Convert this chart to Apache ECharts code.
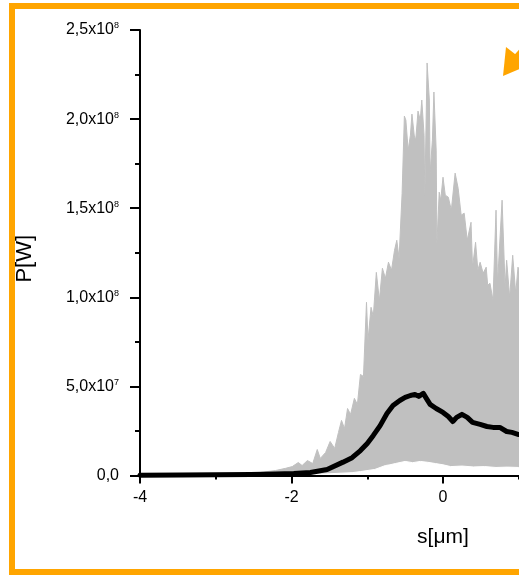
<!DOCTYPE html>
<html>
<head>
<meta charset="utf-8">
<script src="https://cdn.jsdelivr.net/npm/echarts@6.0.0/dist/echarts.min.js"></script>
<style>
  html, body { margin: 0; padding: 0; overflow: hidden; background: #fff; }
  #main { width: 780px; height: 575px; }
</style>
</head>
<body>
<div id="main"></div>
<script>
// s in µm, P in units of 1e7 W
const upperS = [-4.0, -3.2, -2.67, -2.41, -2.21, -2.08, -1.99, -1.91, -1.86, -1.79, -1.72, -1.66, -1.62, -1.55,
  -1.49, -1.43, -1.38, -1.34, -1.30, -1.26, -1.22, -1.17, -1.13, -1.09, -1.05, -1.01, -0.99, -0.95, -0.92,
  -0.88, -0.84, -0.80, -0.76, -0.72, -0.68, -0.64, -0.61, -0.58, -0.54, -0.51, -0.49, -0.46, -0.43, -0.41,
  -0.38, -0.36, -0.33, -0.30, -0.28, -0.25, -0.24, -0.21, -0.18, -0.17, -0.14, -0.12, -0.09, -0.08, -0.05,
  -0.03, 0.0, 0.03, 0.07, 0.11, 0.16, 0.20, 0.24, 0.28, 0.32, 0.37, 0.39, 0.43, 0.46, 0.49, 0.53, 0.57,
  0.59, 0.62, 0.66, 0.70, 0.72, 0.78, 0.82, 0.84, 0.88, 0.92, 0.96, 0.99, 1.04, 1.09];
const upperP = [0.06, 0.06, 0.1, 0.17, 0.28, 0.4, 0.5, 0.73, 0.56, 0.84, 0.67, 1.46, 0.96, 1.29,
  1.91, 1.52, 2.42, 3.09, 2.64, 3.76, 3.43, 4.33, 3.99, 5.67, 5.56, 9.72, 7.58, 9.44, 8.93,
  11.4, 9.83, 11.63, 11.07, 11.97, 11.52, 12.64, 13.2, 12.19, 15.84, 20.17, 19.94, 18.26, 19.1, 20.28,
  19.1, 18.82, 20.45, 19.94, 21.07, 19.1, 15.62, 23.15, 21.07, 16.97, 18.82, 21.52, 18.26, 13.03, 15.9,
  15.45, 16.74, 15.73, 15.62, 14.89, 16.97, 16.12, 14.61, 14.72, 13.2, 14.21, 11.69, 13.09, 11.52, 11.97, 11.35, 11.69,
  10.67, 10.79, 9.83, 14.89, 10.79, 15.45, 10.56, 12.08, 10.0, 12.36, 10.22, 11.69, 10.96, 12.6];

const lowerS = [-4.0, -2.0, -1.49, -1.2, -1.09, -0.9, -0.76, -0.7, -0.63, -0.5, -0.4, -0.3, -0.2, -0.1, 0.0,
  0.1, 0.25, 0.4, 0.55, 0.7, 0.85, 1.0, 1.1];
const lowerP = [0.0, 0.02, 0.1, 0.16, 0.22, 0.34, 0.56, 0.6, 0.67, 0.79, 0.72, 0.79, 0.74, 0.67, 0.6,
  0.5, 0.53, 0.48, 0.5, 0.45, 0.47, 0.45, 0.45];

const meanS = [-4.0, -3.46, -3.0, -2.54, -2.21, -1.97, -1.75, -1.53, -1.32, -1.2, -1.09, -1.0, -0.92, -0.83,
  -0.74, -0.66, -0.57, -0.5, -0.43, -0.37, -0.32, -0.26, -0.22, -0.17, -0.09, 0.0, 0.07, 0.13, 0.18, 0.25,
  0.32, 0.39, 0.49, 0.58, 0.66, 0.75, 0.84, 0.91, 1.0, 1.08];
const meanP = [0.02, 0.03, 0.04, 0.06, 0.08, 0.11, 0.17, 0.34, 0.75, 1.0, 1.4, 1.8, 2.25, 2.8,
  3.48, 3.93, 4.21, 4.38, 4.49, 4.55, 4.44, 4.61, 4.33, 3.99, 3.76, 3.54, 3.31, 3.03, 3.26, 3.43,
  3.26, 2.98, 2.87, 2.75, 2.7, 2.7, 2.47, 2.42, 2.3, 2.25];

const yTickMantissa = ['0,0', '5,0x10', '1,0x10', '1,5x10', '2,0x10', '2,5x10'];
const yTickExp = ['', '7', '8', '8', '8', '8'];

const zip = (xs, ys) => xs.map((x, i) => [x, ys[i]]);

const chart = echarts.init(document.getElementById('main'));
const font = 'Liberation Sans, Arial, sans-serif';

const option = {
  animation: false,
  grid: { left: 140, top: 30, width: 606, height: 445.5 },
  xAxis: {
    type: 'value', min: -4, max: 4, interval: 2, z: 3,
    name: 's[μm]', nameLocation: 'middle', nameGap: 51,
    nameTextStyle: { fontFamily: font, fontSize: 21, color: '#000' },
    axisLine: { onZero: false, lineStyle: { color: '#000', width: 2 } },
    axisTick: { length: 8, lineStyle: { color: '#000', width: 2 } },
    minorTick: { show: true, splitNumber: 2, length: 4, lineStyle: { color: '#000', width: 2 } },
    axisLabel: { margin: 14, fontFamily: font, fontSize: 16, color: '#000' },
    splitLine: { show: false }
  },
  yAxis: {
    type: 'value', min: 0, max: 25, interval: 5, z: 3,
    name: 'P[W]', nameLocation: 'middle', nameRotate: 90, nameGap: 104,
    nameTextStyle: { fontFamily: font, fontSize: 22, color: '#000', padding: [0, 12, 0, 0] },
    axisLine: { show: true, onZero: false, lineStyle: { color: '#000', width: 2 } },
    axisTick: { show: true, length: 10, lineStyle: { color: '#000', width: 2 } },
    minorTick: { show: true, splitNumber: 2, length: 5, lineStyle: { color: '#000', width: 2 } },
    axisLabel: {
      margin: 21,
      formatter: (v) => {
        const i = Math.round(v / 5);
        return yTickExp[i] ? `{m|${yTickMantissa[i]}}{e|${yTickExp[i]}}` : `{m|${yTickMantissa[i]}}`;
      },
      rich: {
        m: { fontFamily: font, fontSize: 16, color: '#000' },
        e: { fontFamily: font, fontSize: 9, color: '#000', padding: [0, 0, 8, 0] }
      }
    },
    splitLine: { show: false }
  },
  series: [
    {
      type: 'line', data: zip(upperS, upperP), symbol: 'none', z: 1,
      lineStyle: { color: '#c0c0c0', width: 1 },
      areaStyle: { color: '#c0c0c0', opacity: 1 }
    },
    {
      type: 'line', data: zip(lowerS, lowerP), symbol: 'none', z: 2,
      lineStyle: { color: '#fff', width: 1 },
      areaStyle: { color: '#fff', opacity: 1 }
    },
    {
      type: 'line', data: zip(meanS, meanP), symbol: 'none', z: 4,
      lineStyle: { color: '#000', width: 5, join: 'round', cap: 'round' }
    }
  ],
  graphic: [
    {
      type: 'rect', z: 10, silent: true,
      shape: { x: 12, y: 6, width: 800, height: 566 },
      style: { fill: null, stroke: '#ffa500', lineWidth: 6 }
    },
    {
      type: 'line', z: 10, silent: true,
      shape: { x1: 513, y1: 61, x2: 545, y2: 25 },
      style: { stroke: '#ffa500', lineWidth: 6 }
    },
    {
      type: 'polygon', z: 10, silent: true,
      shape: { points: [[503, 76], [506, 47], [529, 65]] },
      style: { fill: '#ffa500' }
    }
  ]
};

chart.setOption(option);
</script>
</body>
</html>
